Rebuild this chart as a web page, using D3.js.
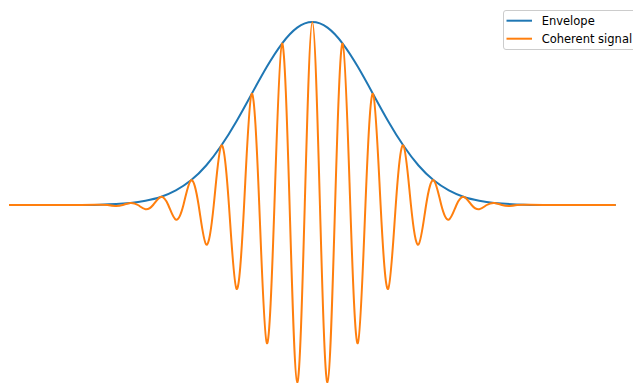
<!DOCTYPE html>
<html>
<head>
<meta charset="utf-8">
<script src="https://cdn.jsdelivr.net/npm/d3@7"></script>
<style>
  body { margin: 0; background: #fff; }
  svg { display: block; }
</style>
</head>
<body>
<svg id="chart"></svg>
<script>
// Envelope samples
const envX = [-5, -4.5, -4, -3.5, -3, -2.75, -2.5, -2.25, -2, -1.75, -1.5, -1.25, -1, -0.75, -0.5, -0.25, 0,
              0.25, 0.5, 0.75, 1, 1.25, 1.5, 1.75, 2, 2.25, 2.5, 2.75, 3, 3.5, 4, 4.5, 5];
const envY = [0, 0, 0.0003, 0.002, 0.011, 0.023, 0.044, 0.080, 0.135, 0.216, 0.325, 0.458, 0.607, 0.755, 0.882, 0.969, 1,
              0.969, 0.882, 0.755, 0.607, 0.458, 0.325, 0.216, 0.135, 0.080, 0.044, 0.023, 0.011, 0.002, 0.0003, 0, 0];

// Coherent signal: peaks, troughs and zero crossings
const sigX = [-5, -4, -3.5, -3.375, -3.25, -3.125, -3, -2.875, -2.75, -2.625, -2.5, -2.375, -2.25, -2.125, -2,
              -1.875, -1.75, -1.625, -1.5, -1.375, -1.25, -1.125, -1, -0.875, -0.75, -0.625, -0.5, -0.375, -0.25, -0.125,
              0, 0.125, 0.25, 0.375, 0.5, 0.625, 0.75, 0.875, 1, 1.125, 1.25, 1.375, 1.5, 1.625, 1.75, 1.875,
              2, 2.125, 2.25, 2.375, 2.5, 2.625, 2.75, 2.875, 3, 3.125, 3.25, 3.375, 3.5, 4, 5];
const sigY = [0, 0, 0.002, 0, -0.005, 0, 0.011, 0, -0.023, 0, 0.044, 0, -0.080, 0, 0.135,
              0, -0.216, 0, 0.325, 0, -0.458, 0, 0.607, 0, -0.755, 0, 0.882, 0, -0.969, 0,
              1, 0, -0.969, 0, 0.882, 0, -0.755, 0, 0.607, 0, -0.458, 0, 0.325, 0, -0.216, 0,
              0.135, 0, -0.080, 0, 0.044, 0, -0.023, 0, 0.011, 0, -0.005, 0, 0.002, 0, 0];

const seriesNames = ["Envelope", "Coherent signal"];
const seriesColors = ["#1f77b4", "#ff7f0e"];

const width = 633, height = 383;

const svg = d3.select("#chart")
    .attr("width", width)
    .attr("height", height);

const xScale = d3.scaleLinear()
    .domain([-5, 5])
    .range([9, 615.7]);

const yScale = d3.scaleLinear()
    .domain([0, 1])
    .range([205, 22]);

const envelope = envX.map((x, i) => ({x: x, y: envY[i]}));
const signal = sigX.map((x, i) => ({x: x, y: sigY[i]}));

const line = d3.line()
    .x(d => xScale(d.x))
    .y(d => yScale(d.y))
    .curve(d3.curveNatural);

// Draw lines
svg.append("path")
    .datum(envelope)
    .attr("d", line)
    .attr("fill", "none")
    .attr("stroke", seriesColors[0])
    .attr("stroke-width", 2);

svg.append("path")
    .datum(signal)
    .attr("d", line)
    .attr("fill", "none")
    .attr("stroke", seriesColors[1])
    .attr("stroke-width", 2);

// Legend (runs off the right edge)
const legend = svg.append("g")
    .attr("transform", "translate(503.5, 10.5)");

legend.append("rect")
    .attr("width", 150)
    .attr("height", 39)
    .attr("rx", 2.5)
    .attr("fill", "#fff")
    .attr("fill-opacity", 0.8)
    .attr("stroke", "#cccccc")
    .attr("stroke-width", 1);

const item = legend.selectAll(".item")
    .data(seriesNames)
    .enter().append("g")
    .attr("class", "item")
    .attr("transform", (d, i) => `translate(0, ${10.2 + i * 18})`);

item.append("line")
    .attr("x1", 3)
    .attr("x2", 28.5)
    .attr("stroke", (d, i) => seriesColors[i])
    .attr("stroke-width", 2);

item.append("text")
    .attr("x", 38.2)
    .attr("y", 4)
    .style("font-family", "DejaVu Sans")
    .style("font-size", "11.5px")
    .attr("fill", "#000")
    .text(d => d);
</script>
</body>
</html>
